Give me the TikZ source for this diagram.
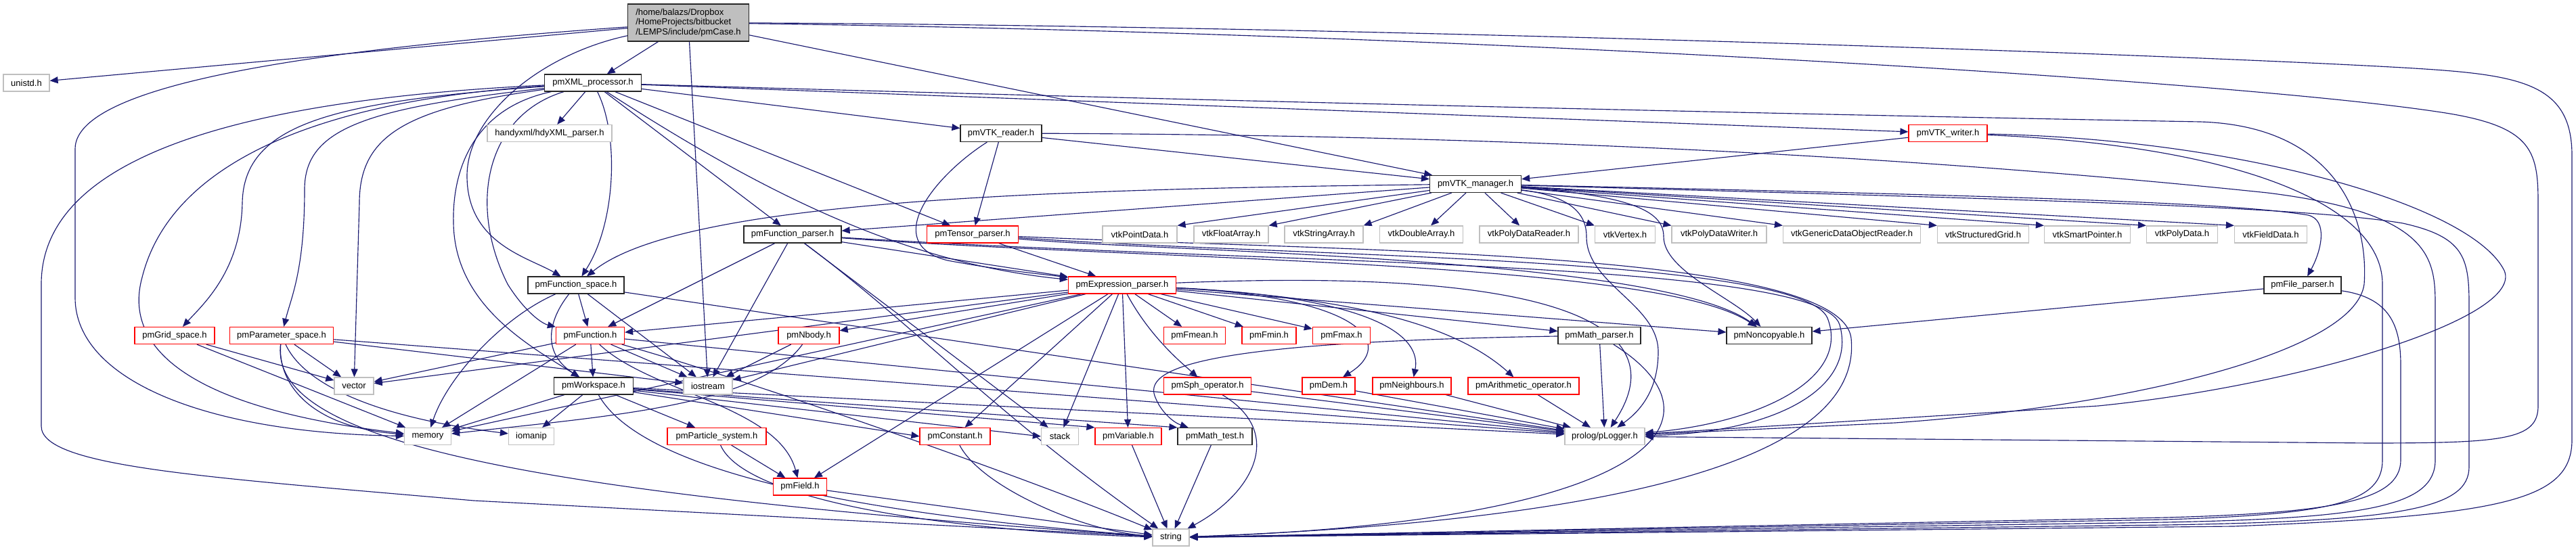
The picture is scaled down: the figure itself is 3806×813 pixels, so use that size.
\documentclass[tikz,border=0pt]{standalone}
\usepackage{fontspec}
\newfontfamily\graphfont{Liberation Sans}
\usetikzlibrary{arrows.meta,backgrounds}
\definecolor{depblue}{HTML}{191970}
\definecolor{sysgray}{HTML}{BFBFBF}

\begin{document}
\begin{tikzpicture}[
    x=0.02cm, y=-0.02cm,
    hdr/.style={
        rectangle, draw=black!85, line width=0.7pt, fill=white,
        minimum height=0.5cm, inner xsep=2pt, inner ysep=0pt,
        font=\graphfont\fontsize{7.4}{8.3}\selectfont
    },
    bw/.style={minimum width=#1*0.02cm},
    redhdr/.style={hdr, draw=red},
    syshdr/.style={hdr, draw=sysgray},
    roothdr/.style={hdr, fill=sysgray, align=left, minimum height=1.1cm},
    dep/.style={draw=depblue, line width=0.65pt, -{Triangle[length=0.24cm,width=0.2cm]}}
]
\useasboundingbox (0,0) rectangle (3806,813);

% rank 0 - 2
\node[roothdr, bw=179] (root) at (1017,33.5) {/home/balazs/Dropbox\\/HomeProjects/bitbucket\\/LEMPS/include/pmCase.h};
\node[syshdr, bw=68] (unistd) at (39,122.5) {unistd.h};
\node[hdr, bw=143] (xmlproc) at (876,122.5) {pmXML\_processor.h};
\node[syshdr, bw=184] (hdyxml) at (812,197) {handyxml/hdyXML\_parser.h};
\node[hdr, bw=120] (vtkreader) at (1479,197) {pmVTK\_reader.h};
\node[redhdr, bw=116] (vtkwriter) at (2878,197) {pmVTK\_writer.h};
\node[hdr, bw=135] (vtkman) at (2180,272) {pmVTK\_manager.h};

% rank 4
\node[hdr, bw=144] (funcparser) at (1171,346.5) {pmFunction\_parser.h};
\node[redhdr, bw=135] (tensorparser) at (1437,346.5) {pmTensor\_parser.h};
\node[syshdr, bw=110] (vtkpointdata) at (1684,346.5) {vtkPointData.h};
\node[syshdr, bw=110] (vtkfloatarray) at (1819,346.5) {vtkFloatArray.h};
\node[syshdr, bw=116] (vtkstringarray) at (1956,346.5) {vtkStringArray.h};
\node[syshdr, bw=123] (vtkdoublearray) at (2100,346.5) {vtkDoubleArray.h};
\node[syshdr, bw=146] (vtkpdreader) at (2259,346.5) {vtkPolyDataReader.h};
\node[syshdr, bw=89] (vtkvertex) at (2401,346.5) {vtkVertex.h};
\node[syshdr, bw=140] (vtkpdwriter) at (2540,346.5) {vtkPolyDataWriter.h};
\node[syshdr, bw=203] (vtkgeneric) at (2736,346.5) {vtkGenericDataObjectReader.h};
\node[syshdr, bw=135] (vtkstructgrid) at (2930,346.5) {vtkStructuredGrid.h};
\node[syshdr, bw=127] (vtksmartptr) at (3084,346.5) {vtkSmartPointer.h};
\node[syshdr, bw=105] (vtkpolydata) at (3224,346.5) {vtkPolyData.h};
\node[syshdr, bw=107] (vtkfielddata) at (3355,346.5) {vtkFieldData.h};

% rank 5
\node[hdr, bw=142] (funcspace) at (851,421.5) {pmFunction\_space.h};
\node[redhdr, bw=159] (exprparser) at (1658,421.5) {pmExpression\_parser.h};
\node[hdr, bw=114] (fileparser) at (3402,421.5) {pmFile\_parser.h};

% rank 6
\node[redhdr, bw=118] (gridspace) at (258,496) {pmGrid\_space.h};
\node[redhdr, bw=153] (paramspace) at (416,496) {pmParameter\_space.h};
\node[redhdr, bw=101] (function) at (872,496) {pmFunction.h};
\node[redhdr, bw=90] (nbody) at (1195,496) {pmNbody.h};
\node[redhdr, bw=91] (fmean) at (1765,496) {pmFmean.h};
\node[redhdr, bw=80] (fmin) at (1875,496) {pmFmin.h};
\node[redhdr, bw=85] (fmax) at (1982,496) {pmFmax.h};
\node[hdr, bw=122] (mathparser) at (2363,496) {pmMath\_parser.h};
\node[hdr, bw=126] (noncopyable) at (2614,496) {pmNoncopyable.h};

% rank 7
\node[syshdr, bw=58] (vector) at (523,570.5) {vector};
\node[hdr, bw=117] (workspace) at (877,570.5) {pmWorkspace.h};
\node[syshdr, bw=72] (iostream) at (1046,570.5) {iostream};
\node[redhdr, bw=129] (sphop) at (1784,570.5) {pmSph\_operator.h};
\node[redhdr, bw=78] (dem) at (1963,570.5) {pmDem.h};
\node[redhdr, bw=116] (neighbours) at (2086,570.5) {pmNeighbours.h};
\node[redhdr, bw=164] (arithop) at (2251,570.5) {pmArithmetic\_operator.h};

% rank 8 - 10
\node[syshdr, bw=69] (memory) at (632,645) {memory};
\node[syshdr, bw=67] (iomanip) at (785,645) {iomanip};
\node[redhdr, bw=146] (particle) at (1059,645) {pmParticle\_system.h};
\node[redhdr, bw=104] (constant) at (1411,645) {pmConstant.h};
\node[syshdr, bw=55] (stack) at (1566,645) {stack};
\node[redhdr, bw=98] (variable) at (1667,645) {pmVariable.h};
\node[hdr, bw=110] (mathtest) at (1795,645) {pmMath\_test.h};
\node[syshdr, bw=118] (logger) at (2371,645) {prolog/pLogger.h};
\node[redhdr, bw=79] (field) at (1182,719.5) {pmField.h};
\node[syshdr, bw=54] (string) at (1730,794.5) {string};

\begin{scope}[on background layer]
\fill[white] (0,0) rectangle (3806,813);

% pmCase.h
\draw[dep] (root) -- (unistd);
\draw[dep] (root) -- (xmlproc);
\draw[dep] (root) -- (vtkman);
\draw[dep] (root) -- (iostream);
\draw[dep] (root) .. controls (500,70) and (111,120) .. (111,220) -- (111,440) .. controls (111,560) and (300,640) .. (memory);
\draw[dep] (root) .. controls (800,80) and (690,170) .. (690,260) .. controls (690,360) and (780,380) .. (funcspace);
\draw[dep] (root) .. controls (2000,38) and (3200,80) .. (3550,100) .. controls (3720,110) and (3800,120) .. (3800,230) -- (3800,650) .. controls (3800,740) and (3700,762) .. (3300,778) -- (string);
\draw[dep] (root) .. controls (2200,50) and (3300,120) .. (3600,165) .. controls (3740,185) and (3750,220) .. (3750,300) -- (3750,600) .. controls (3750,650) and (3700,655) .. (3500,655) -- (logger);

% pmXML_processor.h
\draw[dep] (xmlproc) -- (hdyxml);
\draw[dep] (xmlproc) -- (vtkreader);
\draw[dep] (xmlproc) -- (vtkwriter);
\draw[dep] (xmlproc) -- (funcparser);
\draw[dep] (xmlproc) -- (tensorparser);
\draw[dep] (xmlproc) .. controls (1150,300) and (1350,390) .. (exprparser);
\draw[dep] (xmlproc) .. controls (915,200) and (910,330) .. (funcspace);
\draw[dep] (xmlproc) .. controls (720,170) and (690,300) .. (750,420) .. controls (775,460) and (800,478) .. (function);
\draw[dep] (xmlproc) .. controls (700,160) and (668,250) .. (670,330) .. controls (672,450) and (780,510) .. (workspace);
\draw[dep] (xmlproc) .. controls (500,150) and (360,180) .. (358,300) .. controls (356,400) and (300,450) .. (gridspace);
\draw[dep] (xmlproc) .. controls (540,160) and (450,190) .. (450,280) .. controls (450,400) and (430,440) .. (paramspace);
\draw[dep] (xmlproc) .. controls (600,160) and (531,200) .. (531,300) -- (vector);
\draw[dep] (xmlproc) .. controls (450,150) and (250,250) .. (210,410) .. controls (185,500) and (250,600) .. (memory);
\draw[dep] (xmlproc) .. controls (300,150) and (61,250) .. (61,420) -- (61,630) .. controls (61,690) and (300,705) .. (700,740) -- (string);
\draw[dep] (xmlproc) .. controls (1800,150) and (2800,172) .. (3250,180) .. controls (3450,186) and (3500,320) .. (3493,420) .. controls (3480,520) and (3150,600) .. (2800,625) -- (logger);

% pmVTK_reader.h, pmVTK_writer.h
\draw[dep] (vtkreader) -- (vtkman);
\draw[dep] (vtkreader) -- (tensorparser);
\draw[dep] (vtkreader) .. controls (1380,260) and (1300,360) .. (1400,385) .. controls (1480,400) and (1540,405) .. (exprparser);
\draw[dep] (vtkreader) .. controls (2300,200) and (2900,238) .. (3350,285) .. controls (3590,315) and (3598,380) .. (3598,450) -- (3598,680) .. controls (3598,748) and (3500,766) .. (3200,772) -- (string);
\draw[dep] (vtkwriter) -- (vtkman);
\draw[dep] (vtkwriter) .. controls (3300,205) and (3650,300) .. (3700,400) .. controls (3730,470) and (3400,570) .. (3100,600) -- (logger);
\draw[dep] (vtkwriter) .. controls (3300,215) and (3520,300) .. (3520,420) -- (3520,680) .. controls (3520,742) and (3450,760) .. (3200,768) -- (string);

% pmVTK_manager.h
\draw[dep] (vtkman) -- (vtkpointdata.north east);
\draw[dep] (vtkman) -- (vtkfloatarray.north east);
\draw[dep] (vtkman) -- (vtkstringarray.north east);
\draw[dep] (vtkman) -- (vtkdoublearray);
\draw[dep] (vtkman) -- (vtkpdreader);
\draw[dep] (vtkman) -- (vtkvertex.north west);
\draw[dep] (vtkman) -- (vtkpdwriter.north west);
\draw[dep] (vtkman) -- (vtkgeneric.north west);
\draw[dep] (vtkman) -- (vtkstructgrid.north west);
\draw[dep] (vtkman) -- (vtksmartptr.north west);
\draw[dep] (vtkman) -- (vtkpolydata.north west);
\draw[dep] (vtkman) -- (vtkfielddata.north west);
\draw[dep] (vtkman) .. controls (3000,290) and (3300,300) .. (3410,318) .. controls (3440,325) and (3430,370) .. (fileparser);
\draw[dep] (vtkman) .. controls (3000,295) and (3400,305) .. (3550,330) .. controls (3640,350) and (3648,380) .. (3648,450) -- (3648,690) .. controls (3648,752) and (3550,770) .. (3200,776) -- (string);
\draw[dep] (vtkman) -- (funcparser);
\draw[dep] (vtkman) .. controls (1500,280) and (1000,300) .. (funcspace);
\draw[dep] (vtkman) .. controls (2420,290) and (2458,315) .. (2458,350) .. controls (2458,400) and (2560,440) .. (noncopyable);
\draw[dep] (vtkman) .. controls (2320,290) and (2344,315) .. (2344,350) .. controls (2344,420) and (2450,450) .. (2450,520) .. controls (2450,580) and (2420,610) .. (logger);

% pmFunction_parser.h, pmTensor_parser.h
\draw[dep] (funcparser) -- (exprparser);
\draw[dep] (funcparser) -- (function);
\draw[dep] (funcparser) -- (iostream);
\draw[dep] (funcparser) -- (stack);
\draw[dep] (funcparser) .. controls (1350,480) and (1480,620) .. (string);
\draw[dep] (funcparser) .. controls (1700,385) and (2450,385) .. (noncopyable);
\draw[dep] (funcparser) .. controls (1900,392) and (2690,385) .. (2718,480) .. controls (2745,575) and (2620,640) .. (logger);
\draw[dep] (tensorparser) -- (exprparser);
\draw[dep] (tensorparser) .. controls (1700,372) and (2450,378) .. (noncopyable);
\draw[dep] (tensorparser) .. controls (1900,380) and (2660,378) .. (2700,470) .. controls (2735,560) and (2600,625) .. (logger);
\draw[dep] (tensorparser) .. controls (2000,372) and (2720,370) .. (2735,500) .. controls (2750,650) and (2500,765) .. (string);

% pmFunction_space.h
\draw[dep] (funcspace) -- (function);
\draw[dep] (funcspace) .. controls (805,480) and (805,525) .. (workspace);
\draw[dep] (funcspace) .. controls (740,470) and (660,560) .. (memory);
\draw[dep] (funcspace) -- (iostream);
\draw[dep] (funcspace) -- (logger);

% pmExpression_parser.h
\draw[dep] (exprparser) -- (fmean);
\draw[dep] (exprparser) -- (fmin);
\draw[dep] (exprparser) -- (fmax);
\draw[dep] (exprparser) .. controls (1700,500) and (1750,540) .. (sphop);
\draw[dep] (exprparser) -- (constant);
\draw[dep] (exprparser) -- (stack);
\draw[dep] (exprparser) -- (variable);
\draw[dep] (exprparser) -- (mathparser);
\draw[dep] (exprparser) .. controls (2020,440) and (2060,510) .. (dem);
\draw[dep] (exprparser) .. controls (2040,440) and (2100,500) .. (neighbours);
\draw[dep] (exprparser) .. controls (2000,440) and (2150,480) .. (arithop);
\draw[dep] (exprparser) -- (noncopyable);
\draw[dep] (exprparser) .. controls (2300,395) and (2480,480) .. (logger);
\draw[dep] (exprparser) -- (nbody);
\draw[dep] (exprparser) -- (function);
\draw[dep] (exprparser) -- (field);
\draw[dep] (exprparser) -- (memory);
\draw[dep] (exprparser) -- (iostream);
\draw[dep] (exprparser) -- (vector);

% pmGrid_space.h, pmParameter_space.h
\draw[dep] (gridspace) -- (vector);
\draw[dep] (gridspace) -- (memory);
\draw[dep] (paramspace) -- (vector);
\draw[dep] (paramspace) .. controls (410,560) and (450,630) .. (memory);
\draw[dep] (paramspace) .. controls (450,570) and (560,618) .. (iomanip);
\draw[dep] (paramspace) .. controls (400,640) and (700,725) .. (string);
\draw[dep] (paramspace) -- (iostream);
\draw[dep] (paramspace) -- (logger);

% pmFunction.h, pmNbody.h
\draw[dep] (function) -- (vector);
\draw[dep] (function) -- (memory);
\draw[dep] (function) -- (workspace);
\draw[dep] (function) -- (iostream);
\draw[dep] (function) .. controls (960,580) and (1150,600) .. (field);
\draw[dep] (function) .. controls (1100,560) and (1500,700) .. (string);
\draw[dep] (function) -- (logger);
\draw[dep] (nbody) -- (iostream);
\draw[dep] (nbody) .. controls (1120,600) and (900,615) .. (memory);

% pmWorkspace.h
\draw[dep] (workspace) -- (memory);
\draw[dep] (workspace) -- (iomanip);
\draw[dep] (workspace) -- (particle);
\draw[dep] (workspace) .. controls (960,720) and (1400,770) .. (string);
\draw[dep] (workspace) -- (constant.west);
\draw[dep] (workspace) -- (stack.west);
\draw[dep] (workspace) -- (variable.north west);
\draw[dep] (workspace) -- (mathtest.north west);
\draw[dep] (workspace) -- (logger);

% lower ranks
\draw[dep] (particle) -- (field);
\draw[dep] (particle) .. controls (1100,740) and (1400,785) .. (string);
\draw[dep] (constant) .. controls (1450,720) and (1600,785) .. (string);
\draw[dep] (variable) -- (string);
\draw[dep] (mathtest) -- (string);
\draw[dep] (field) -- (string);
\draw[dep] (sphop) .. controls (1900,640) and (1850,730) .. (string);
\draw[dep] (sphop) -- (logger);
\draw[dep] (dem) -- (logger);
\draw[dep] (neighbours) -- (logger);
\draw[dep] (arithop) -- (logger);
\draw[dep] (mathparser) -- (logger);
\draw[dep] (mathparser) .. controls (1800,505) and (1690,540) .. (1706,585) .. controls (1715,610) and (1735,625) .. (mathtest);
\draw[dep] (mathparser) .. controls (2560,620) and (2450,770) .. (string);
\draw[dep] (fileparser) -- (noncopyable);
\draw[dep] (fileparser) .. controls (3530,440) and (3547,480) .. (3547,540) -- (3547,680) .. controls (3547,740) and (3450,758) .. (3200,765) -- (string);
\end{scope}
\end{tikzpicture}
\end{document}
